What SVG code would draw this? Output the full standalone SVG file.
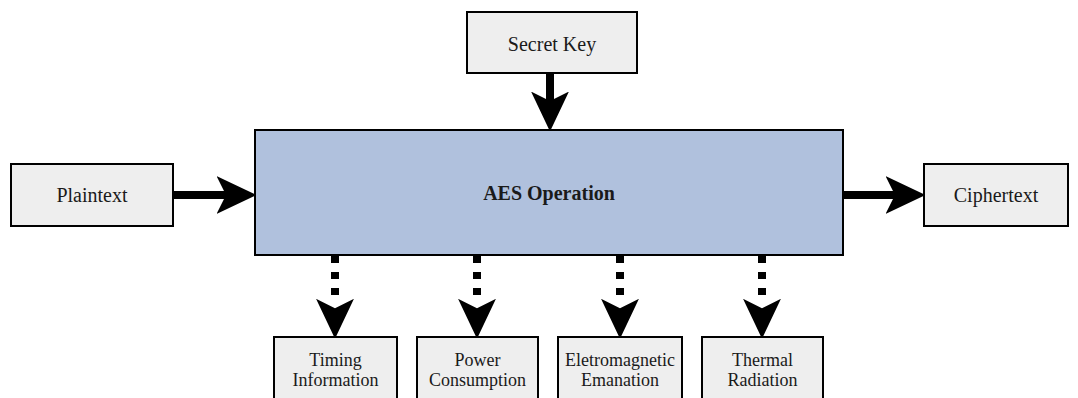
<svg xmlns="http://www.w3.org/2000/svg" width="1078" height="398" viewBox="0 0 1078 398">
  <style>
    .box { fill: #eeeeee; stroke: #000000; stroke-width: 2; }
    .main { fill: #b0c1dd; stroke: #000000; stroke-width: 2; }
    .lbl { font-family: 'Liberation Serif', 'DejaVu Serif', serif; font-size: 20px; fill: #1a1a1a; text-anchor: middle; }
    .small { font-size: 18px; }
    .bold { font-weight: bold; }
    .flow { stroke: #000000; stroke-width: 8; fill: none; }
    .leak { stroke: #000000; stroke-width: 8; fill: none; stroke-dasharray: 7 9; }
  </style>
  <defs>
    <marker id="head" markerUnits="userSpaceOnUse" markerWidth="40" markerHeight="40" viewBox="0 0 38 36" refX="9" refY="18" orient="auto">
      <path d="M0,0 L38,18 L0,36 L9,18 Z" fill="#000000"/>
    </marker>
    <!-- same head, anchored a little behind the notch so dashes stop short of it -->
    <marker id="head-gap" markerUnits="userSpaceOnUse" markerWidth="40" markerHeight="40" viewBox="0 0 38 36" refX="4" refY="18" orient="auto">
      <path d="M0,0 L38,18 L0,36 L9,18 Z" fill="#000000"/>
    </marker>
  </defs>

  <!-- connectors -->
  <g id="connectors">
    <line class="flow" x1="550" y1="73" x2="550" y2="101" marker-end="url(#head)"/>
    <line class="flow" x1="173" y1="195" x2="226" y2="195" marker-end="url(#head)"/>
    <line class="flow" x1="843" y1="195" x2="895" y2="195" marker-end="url(#head)"/>
    <line class="leak" x1="335" y1="256" x2="335" y2="303" marker-end="url(#head-gap)"/>
    <line class="leak" x1="477" y1="256" x2="477" y2="303" marker-end="url(#head-gap)"/>
    <line class="leak" x1="620" y1="256" x2="620" y2="303" marker-end="url(#head-gap)"/>
    <line class="leak" x1="762" y1="256" x2="762" y2="303" marker-end="url(#head-gap)"/>
  </g>

  <g id="secret-key">
    <rect class="box" x="467" y="12" width="170" height="61"/>
    <text class="lbl" x="552" y="51">Secret Key</text>
  </g>

  <g id="plaintext">
    <rect class="box" x="11" y="164" width="162" height="62"/>
    <text class="lbl" x="92" y="202">Plaintext</text>
  </g>

  <g id="aes-operation">
    <rect class="main" x="255" y="130" width="588" height="125"/>
    <text class="lbl bold" x="549" y="200">AES Operation</text>
  </g>

  <g id="ciphertext">
    <rect class="box" x="924" y="164" width="144" height="62"/>
    <text class="lbl" x="996" y="202">Ciphertext</text>
  </g>

  <g id="timing-information">
    <rect class="box" x="274" y="337" width="123" height="70"/>
    <text class="lbl small" x="335.5" y="366">Timing</text>
    <text class="lbl small" x="335.5" y="386">Information</text>
  </g>

  <g id="power-consumption">
    <rect class="box" x="417" y="337" width="121" height="70"/>
    <text class="lbl small" x="477.5" y="366">Power</text>
    <text class="lbl small" x="477.5" y="386">Consumption</text>
  </g>

  <g id="electromagnetic-emanation">
    <rect class="box" x="558" y="337" width="124" height="70"/>
    <text class="lbl small" x="620" y="366">Eletromagnetic</text>
    <text class="lbl small" x="620" y="386">Emanation</text>
  </g>

  <g id="thermal-radiation">
    <rect class="box" x="702" y="337" width="121" height="70"/>
    <text class="lbl small" x="762.5" y="366">Thermal</text>
    <text class="lbl small" x="762.5" y="386">Radiation</text>
  </g>
</svg>
